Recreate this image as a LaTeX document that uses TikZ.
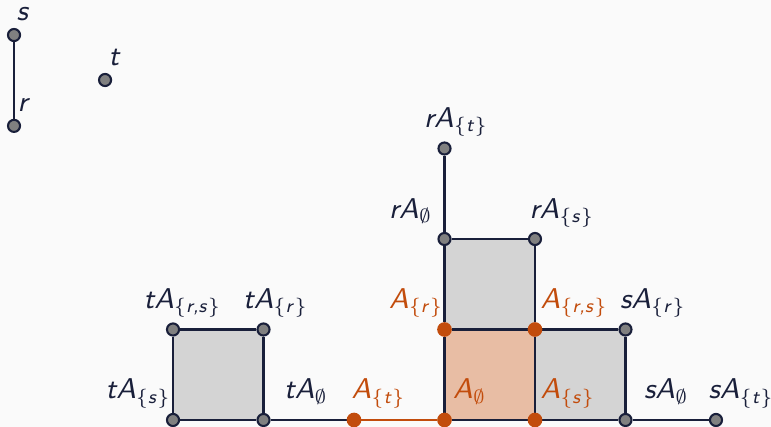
\documentclass[tikz,border=0pt]{standalone}
\usetikzlibrary{backgrounds}
% sans serif slanted letters in math, as in beamer
\SetSymbolFont{letters}{normal}{OT1}{cmss}{m}{sl}
\newcommand\cellcomma{\mathchar"612C}
\definecolor{navy}{RGB}{25,31,58}
\definecolor{rust}{RGB}{194,76,12}
\definecolor{peach}{RGB}{232,189,164}
\definecolor{cellgray}{RGB}{212,212,212}
\definecolor{dotgray}{RGB}{128,128,128}
\definecolor{bggray}{RGB}{250,250,250}
\begin{document}
\begin{tikzpicture}[
    edge/.style={navy,line width=0.8pt},
    redge/.style={rust,line width=0.8pt},
    vtx/.style={circle,fill=dotgray,draw=navy,line width=0.65pt,inner sep=0pt,minimum size=3.8pt},
    rvtx/.style={circle,fill=rust,draw=rust,line width=0.6pt,inner sep=0pt,minimum size=4pt},
    lbl/.style={text=navy,font=\small,inner sep=0pt,anchor=base west},
    rlbl/.style={text=rust,font=\small,inner sep=0pt,anchor=base west}]
    \useasboundingbox (-1.912,-0.077) rectangle (6.608,4.641);
    % the poset s > r and the isolated t
    \foreach \vname/\px/\py/\dx/\vtext in {
        s/-1.757/4.254/0.022/s,r/-1.757/3.25/0.033/r,t/-0.751/3.757/0.033/t}{
      \node[vtx] (\vname) at (\px,\py) {};
      \node[lbl] (\vname-l) at ([shift={(\dx,0.16)}]\vname.center) {$\vtext$};
    }
    % grey cells
    \foreach \vname/\px/\py/\dx/\vtext in {
        tAs/0/0/-0.751/{tA_{\{s\}}},tAe/1/0/0.221/{tA_\emptyset},
        tArs/0/1/-0.331/{tA_{\{r\cellcomma s\}}},tAr/1/1/-0.232/{tA_{\{r\}}},
        sAe/5/0/0.199/{sA_\emptyset},sAt/6/0/-0.088/{sA_{\{t\}}},
        sAr/5/1/-0.066/{sA_{\{r\}}},
        rAe/3/2/-0.619/{rA_\emptyset},rAs/4/2/-0.066/{rA_{\{s\}}},
        rAt/3/3/-0.232/{rA_{\{t\}}}}{
      \node[vtx] (\vname) at (\px,\py) {};
      \node[lbl] (\vname-l) at ([shift={(\dx,0.232)}]\vname.center) {$\vtext$};
    }
    % orange cells
    \foreach \vname/\px/\py/\dx/\vtext in {
        At/2/0/-0.033/{A_{\{t\}}},Ae/3/0/0.088/{A_\emptyset},
        As/4/0/0.055/{A_{\{s\}}},Ar/3/1/-0.619/{A_{\{r\}}},
        Ars/4/1/0.055/{A_{\{r\cellcomma s\}}}}{
      \node[rvtx] (\vname) at (\px,\py) {};
      \node[rlbl] (\vname-l) at ([shift={(\dx,0.232)}]\vname.center) {$\vtext$};
    }
    \begin{scope}[on background layer]
      \fill[bggray] (-1.912,-0.077) rectangle (6.608,4.641);
      \fill[cellgray] (tAs.center) rectangle (tAr.center);
      \fill[cellgray] (Ar.center) rectangle (rAs.center);
      \fill[cellgray] (As.center) rectangle (sAr.center);
      \fill[peach] (Ae.center) rectangle (Ars.center);
      \draw[edge] (s) -- (r);
      \draw[edge] (tAs) -- (tAe) -- (tAr) -- (tArs) -- (tAs);
      \draw[edge] (tAe) -- (At);
      \draw[redge] (At) -- (Ae);
      \draw[edge] (Ae) -- (As) -- (sAe) -- (sAt);
      \draw[edge] (Ae) -- (Ar) -- (Ars) -- (As);
      \draw[edge] (Ars) -- (sAr) -- (sAe);
      \draw[edge] (Ar) -- (rAe) -- (rAs) -- (Ars);
      \draw[edge] (rAe) -- (rAt);
    \end{scope}
\end{tikzpicture}
\end{document}
